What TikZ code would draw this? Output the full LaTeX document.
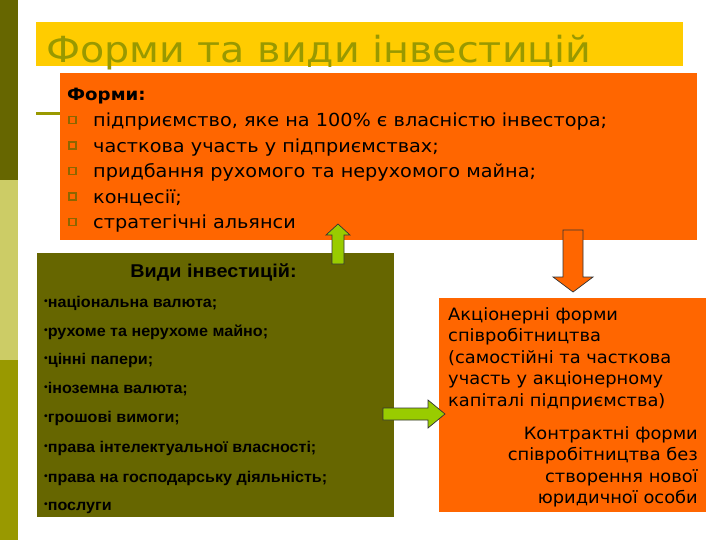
\documentclass[tikz,border=0pt]{standalone}
\usepackage{fontspec}
\setmainfont{DejaVu Sans}
\newfontfamily\titlefont[FakeStretch=1.1]{DejaVu Sans}
\newfontfamily\formfont[FakeStretch=1.07]{DejaVu Sans}
\newfontfamily\rightfont[FakeStretch=1.05]{DejaVu Sans}
\newfontfamily\arialfont[FakeStretch=1.04]{Liberation Sans}
\newfontfamily\arialhead[FakeStretch=1.07]{Liberation Sans}
\definecolor{darkolive}{HTML}{666600}
\definecolor{lightolive}{HTML}{CCCC66}
\definecolor{olive}{HTML}{999900}
\definecolor{band}{HTML}{FFCC00}
\definecolor{orangebox}{HTML}{FF6600}
\definecolor{greenarrow}{HTML}{99CC00}
\definecolor{bulletc}{HTML}{8C6600}
\begin{document}
\begin{tikzpicture}[x=1pt,y=-1pt,
  txt/.style={anchor=base west, inner sep=0pt, text=black},
  formtxt/.style={txt, font=\formfont\fontsize{18}{21}\selectfont},
  vidtxt/.style={txt, font=\arialfont\bfseries\fontsize{15.5}{18}\selectfont},
  righttxt/.style={inner sep=0pt, text=black, font=\rightfont\fontsize{17}{20}\selectfont},
  blockarrow/.style={draw=black!80, line width=0.7pt, line join=miter},
  bsq/.style={draw=bulletc, line width=1.3pt, minimum size=7pt, inner sep=0pt}]
\useasboundingbox (0,0) rectangle (720,540);
\fill[white] (0,0) rectangle (720,540);
% side stripe
\fill[darkolive] (0,0) rectangle (18,180);
\fill[lightolive] (0,180) rectangle (18,360);
\fill[olive] (0,360) rectangle (18,540);
% title band
\fill[band] (36,22) rectangle (683,66);
\node[anchor=base west, inner sep=0pt, text=olive, font=\titlefont\fontsize{36}{42}\selectfont] (title) at (46,63) {Форми та види інвестицій};
\draw[olive, line width=3pt] (36,114) -- (62,114);
% forms box
\fill[orangebox] (60,73) rectangle (697,240);
\node[formtxt, font=\formfont\bfseries\fontsize{17}{20}\selectfont] (fh) at (67,100.5) {Форми:};
\foreach \yy/\t [count=\i] in {127/{підприємство, яке на 100\% є власністю інвестора;},
  152.5/{часткова участь у підприємствах;},
  178/{придбання рухомого та нерухомого майна;},
  203.5/{концесії;},
  229/{стратегічні альянси}}{
  \node[bsq] (b\i) at (72.5,\yy-7) {};
  \node[formtxt] (f\i) at (93,\yy) {\t};
}
% kinds box
\fill[darkolive] (37,253) rectangle (394,517);
\node[anchor=base, inner sep=0pt, font=\arialhead\bfseries\fontsize{18.5}{22}\selectfont] (vh) at (213.5,277) {Види інвестицій:};
\foreach \yy/\t [count=\i] in {307/{національна валюта;},
  336/{рухоме та нерухоме майно;},
  364/{цінні папери;},
  393/{іноземна валюта;},
  422/{грошові вимоги;},
  452/{права інтелектуальної власності;},
  482/{права на господарську діяльність;},
  510/{послуги}}{
  \node[vidtxt] (v\i) at (44,\yy) {{\fontsize{10}{11}\selectfont\raisebox{2.5pt}{•}}\t};
}
% right box
\fill[orangebox] (439,298) rectangle (706,512);
\foreach \yy/\t [count=\i] in {320/{Акціонерні форми},
  341.5/{співробітництва},
  363/{(самостійні та часткова},
  384.5/{участь у акціонерному},
  406/{капіталі підприємства)}}{
  \node[righttxt, anchor=base west] (a\i) at (448,\yy) {\t};
}
\foreach \yy/\t [count=\i] in {439/{Контрактні форми},
  460.5/{співробітництва без},
  482/{створення нової},
  503.5/{юридичної особи}}{
  \node[righttxt, anchor=base east] (c\i) at (698,\yy) {\t};
}
% block arrows
\filldraw[blockarrow, fill=greenarrow] (332,264) -- (332,235) -- (326,235) -- (338,224) -- (350,235) -- (344,235) -- (344,264) -- cycle;
\filldraw[blockarrow, fill=orangebox] (563,230) -- (583,230) -- (583,277) -- (593,277) -- (573,292) -- (553,277) -- (563,277) -- cycle;
\filldraw[blockarrow, fill=greenarrow] (383,408) -- (428,408) -- (428,400) -- (445,414) -- (428,428) -- (428,420) -- (383,420) -- cycle;
\end{tikzpicture}
\end{document}
